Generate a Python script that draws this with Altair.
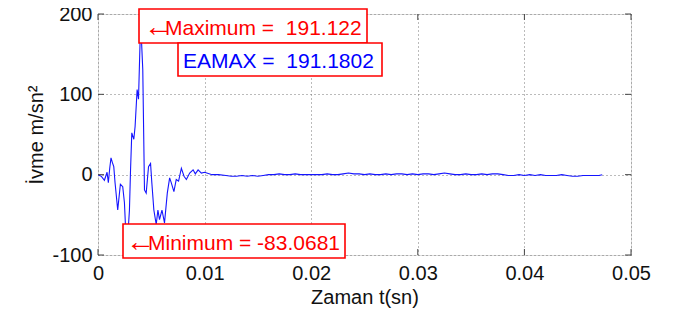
import altair as alt
import pandas as pd

# ---- data ----
time_s = [
    0.0000, 0.0003, 0.0006, 0.00085, 0.00097, 0.0011, 0.00122, 0.00135, 0.00148, 0.0016,
    0.00185, 0.0021, 0.00232, 0.00248, 0.0026, 0.00273, 0.00285, 0.00295, 0.00305, 0.00317,
    0.00336, 0.00348, 0.00367, 0.0038, 0.0040, 0.0042, 0.00436, 0.00452, 0.00474, 0.00493,
    0.00505, 0.00524, 0.00546, 0.00562, 0.00577, 0.0060, 0.00624, 0.0065, 0.00672, 0.00687,
    0.00712, 0.00734, 0.00756, 0.00782, 0.00807, 0.00829, 0.0086, 0.00892, 0.00913, 0.00939,
    0.0097, 0.0100, 0.0107, 0.0113, 0.0120, 0.0125,
    0.0130, 0.0135, 0.0140, 0.0145, 0.0150, 0.0155, 0.0160, 0.0165, 0.0170, 0.0175,
    0.0180, 0.0185, 0.0190, 0.0195, 0.0200, 0.0205, 0.0210, 0.0215, 0.0220, 0.0225,
    0.0230, 0.0235, 0.0240, 0.0245, 0.0250, 0.0255, 0.0260, 0.0265, 0.0270, 0.0275,
    0.0280, 0.0285, 0.0290, 0.0295, 0.0300, 0.0305, 0.0310, 0.0315, 0.0320, 0.0325,
    0.0330, 0.0335, 0.0340, 0.0345, 0.0350, 0.0355, 0.0360, 0.0365, 0.0370, 0.0375,
    0.0380, 0.0385, 0.0390, 0.0395, 0.0400, 0.0405, 0.0410, 0.0415, 0.0420, 0.0425,
    0.0430, 0.0435, 0.0440, 0.0445, 0.0450, 0.0455, 0.0460, 0.0465, 0.0470, 0.0473,
]
accel = [
    0, -2, -7, 3, -10, 8, 21, 15, 10, -10,
    -44, -12, -15, -35, -70, -83.0681, -65, -44, 5, 52,
    44, 60, 106, 94, 191.122, 131, -19, -23, 10, 14,
    -10, -44, -62, -44, -56, -44, -60, -23, -4, -10,
    -21, -6, -8, 8, -2, -6, 2, 6, 1, 6,
    2, 3, 0, 0, -1, -2,
    -2, -1, -2, -1, -2, -1, 0, 0, 1, 0,
    0, 1, 0, 0, 0, 0, 0, 1, 0, 0,
    1, 2, 1, 1, 0, 1, 0, 0, 1, 0,
    1, 1, 0, 1, 0, 1, 1, 0, 1, 2,
    1, 0, 0, 1, 0, 0, 1, 0, 1, 1,
    0, -1, -1, 0, -1, 0, -1, 0, -1, -1,
    -1, 0, -1, -2, -2, -1, -1, -1, -1, 0,
]
eamax_value = 191.1802
x_ticks = [0, 0.01, 0.02, 0.03, 0.04, 0.05]
y_ticks = [-100, 0, 100, 200]

df = pd.DataFrame({"t": time_s, "a": accel})
a_max = max(accel)
a_min = min(accel)
NB = "\u00a0"
max_label = f"Maximum ={NB}{NB}{a_max:.6g}"
min_label = f"Minimum = {a_min:.6g}"
eamax_label = f"EAMAX ={NB}{NB}{eamax_value:.7g}"

W, H = 533, 241
FONT = "Liberation Sans"

x_scale = alt.Scale(domain=[0, 0.05], nice=False, zero=False)
y_scale = alt.Scale(domain=[-100, 200], nice=False, zero=False)

x_axis = alt.Axis(values=x_ticks, format="~g", title="Zaman t(sn)",
                  grid=True, gridDash=[1, 3], gridColor="#777", gridWidth=1,
                  ticks=False, domain=False, labelPadding=8,
                  labelFont=FONT, labelFontSize=20, labelColor="#111",
                  titleFont=FONT, titleFontSize=20, titleFontWeight="normal",
                  titleColor="#111", titlePadding=4, labelFlush=False)
y_axis = alt.Axis(values=y_ticks, title="\u0130vme m/sn\u00b2",
                  labelExpr="'' + datum.value",
                  grid=True, gridDash=[1, 3], gridColor="#777", gridWidth=1,
                  ticks=False, domain=False, labelPadding=6,
                  labelFont=FONT, labelFontSize=20, labelColor="#111",
                  titleFont=FONT, titleFontSize=20, titleFontWeight="normal",
                  titleColor="#111", titlePadding=5, labelFlush=False)

X = alt.X("t:Q", scale=x_scale, axis=x_axis)
Y = alt.Y("a:Q", scale=y_scale, axis=y_axis)

line = alt.Chart(df).mark_line(color="#1515ff", strokeWidth=1.1, clip=True).encode(x=X, y=Y)

xt = pd.DataFrame({"t": x_ticks})
yt = pd.DataFrame({"a": y_ticks})
tick_color = "#444"
xtick_b = alt.Chart(xt).mark_rule(color=tick_color, strokeWidth=1).encode(
    x=X, y=alt.value(H), y2=alt.value(H - 6))
xtick_t = alt.Chart(xt).mark_rule(color=tick_color, strokeWidth=1).encode(
    x=X, y=alt.value(0), y2=alt.value(6))
ytick_l = alt.Chart(yt).mark_rule(color=tick_color, strokeWidth=1).encode(
    y=Y, x=alt.value(0), x2=alt.value(6))
ytick_r = alt.Chart(yt).mark_rule(color=tick_color, strokeWidth=1).encode(
    y=Y, x=alt.value(W), x2=alt.value(W - 6))

one = pd.DataFrame({"k": [0]})


def box(x0, x1, y0, y1):
    return alt.Chart(one).mark_rect(fill="white", stroke="#ff0000", strokeWidth=1.6).encode(
        x=alt.value(x0), x2=alt.value(x1), y=alt.value(y0), y2=alt.value(y1))


def label(txt, x, y, color, font=FONT, size=21):
    return alt.Chart(one).mark_text(text=txt, align="left", baseline="alphabetic",
                                    font=font, fontSize=size, color=color).encode(
        x=alt.value(x), y=alt.value(y))


ARROW = "\u2190"
ann = [
    box(41, 269, -5, 29),
    label(ARROW, 46, 22, "#ff0000", FONT, 29),
    label(max_label, 67, 21, "#ff0000"),
    box(80, 284, 29, 62),
    label(eamax_label, 85, 54, "#0000ff"),
    box(25, 247, 210, 244),
    label(ARROW, 28, 237, "#ff0000", FONT, 29),
    label(min_label, 50, 236, "#ff0000"),
]

chart = alt.layer(line, xtick_b, xtick_t, ytick_l, ytick_r, *ann).properties(
    width=W, height=H,
    autosize=alt.AutoSizeParams(type="none"),
    padding={"left": 90, "top": 6, "right": 35, "bottom": 57},
).configure_view(stroke="#444", strokeWidth=1).configure(background="white")

chart.save("out.html", embed_options={"renderer": "svg", "actions": False})
